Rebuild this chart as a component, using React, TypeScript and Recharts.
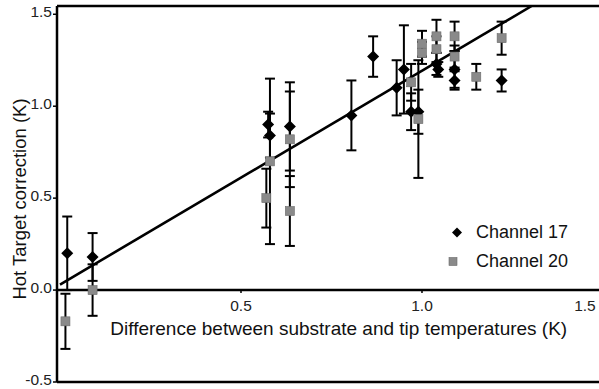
import React from 'react';
import { ScatterChart, Scatter, XAxis, YAxis, ErrorBar, ReferenceLine, ReferenceDot, Legend } from 'recharts';

// x = temperature difference (K), y = hot target correction (K), err = half error bar
const channel17 = [
  { x: 0.02, y: 0.2, err: 0.2 },
  { x: 0.09, y: 0.18, err: 0.13 },
  { x: 0.575, y: 0.9, err: 0.07 },
  { x: 0.58, y: 0.84, err: 0.12 },
  { x: 0.635, y: 0.89, err: 0.24 },
  { x: 0.805, y: 0.95, err: 0.19 },
  { x: 0.865, y: 1.27, err: 0.11 },
  { x: 0.93, y: 1.1, err: 0.15 },
  { x: 0.95, y: 1.2, err: 0.24 },
  { x: 0.97, y: 0.97, err: 0.1 },
  { x: 0.99, y: 0.97, err: 0.12 },
  { x: 1.04, y: 1.23, err: 0.06 },
  { x: 1.045, y: 1.2, err: 0.04 },
  { x: 1.09, y: 1.2, err: 0.1 },
  { x: 1.09, y: 1.14, err: 0.05 },
  { x: 1.22, y: 1.14, err: 0.06 },
];

const channel20 = [
  { x: 0.015, y: -0.17, err: 0.15 },
  { x: 0.09, y: 0.0, err: 0.14 },
  { x: 0.58, y: 0.7, err: 0.45 },
  { x: 0.57, y: 0.5, err: 0.16 },
  { x: 0.635, y: 0.82, err: 0.26 },
  { x: 0.635, y: 0.43, err: 0.19 },
  { x: 0.97, y: 1.13, err: 0.1 },
  { x: 0.99, y: 0.93, err: 0.32 },
  { x: 1.0, y: 1.34, err: 0.07 },
  { x: 1.0, y: 1.29, err: 0.06 },
  { x: 1.04, y: 1.38, err: 0.09 },
  { x: 1.04, y: 1.31, err: 0.07 },
  { x: 1.09, y: 1.38, err: 0.08 },
  { x: 1.09, y: 1.27, err: 0.06 },
  { x: 1.15, y: 1.16, err: 0.07 },
  { x: 1.22, y: 1.37, err: 0.09 },
];

// fitted straight line, start and the point where it leaves the top of the plot
const fitLine = [
  { x: 0, y: 0.03 },
  { x: 1.303, y: 1.545 },
];

const xTicks = [0.5, 1.0, 1.5];
const yTicks = [-0.5, 0, 0.5, 1.0, 1.5];
const xDomain = [-0.0083, 1.489];
const yDomain = [-0.5, 1.545];

const xTitle = 'Difference between substrate and tip temperatures (K)';
const yTitle = 'Hot Target correction (K)';
const seriesNames = ['Channel 17', 'Channel 20'];

const FONT = '"Liberation Sans", Arial, Helvetica, sans-serif';

const Diamond = (props: any) => {
  const { cx, cy } = props;
  const s = 6;
  return <polygon points={`${cx},${cy - s} ${cx + s},${cy} ${cx},${cy + s} ${cx - s},${cy}`} fill="#000" />;
};

const Square = (props: any) => {
  const { cx, cy } = props;
  const s = 4.5;
  return <rect x={cx - s} y={cy - s} width={2 * s} height={2 * s} fill="#8a8a8a" stroke="#6a6a6a" strokeWidth={0.6} />;
};

const XTick = (props: any) => {
  const { cx, cy, value } = props;
  const last = value === xTicks[xTicks.length - 1];
  return (
    <g>
      {!last && <line x1={cx} y1={cy + 1} x2={cx} y2={cy + 3} stroke="#000" strokeWidth={1.5} />}
      <text x={last ? cx - 18 : cx} y={cy + 21} textAnchor="middle" fontFamily={FONT} fontSize={15.5} fill="#222">
        {value.toFixed(1)}
      </text>
    </g>
  );
};

const XTitle = (props: any) => {
  const { cx, cy } = props;
  return (
    <text x={cx} y={cy + 45} textAnchor="middle" fontFamily={FONT} fontSize={19} fill="#111">
      {xTitle}
    </text>
  );
};

const YTick = (props: any) => {
  const { x, y, payload } = props;
  return (
    <text x={x} y={y + 3} textAnchor="end" fontFamily={FONT} fontSize={15.5} fill="#222">
      {payload.value.toFixed(1)}
    </text>
  );
};

const YTitle = (props: any) => {
  const { viewBox } = props;
  const x = viewBox.x + 26;
  const y = viewBox.y + viewBox.height / 2 + 5;
  return (
    <text x={x} y={y} transform={`rotate(-90, ${x}, ${y})`} textAnchor="middle" fontFamily={FONT} fontSize={18.5} fill="#111">
      {yTitle}
    </text>
  );
};

const LegendBox = () => (
  <div style={{ fontFamily: FONT, fontSize: 18, color: '#111', lineHeight: '29px' }}>
    <div style={{ display: 'flex', alignItems: 'center', height: 29 }}>
      <svg width={28} height={29}>
        <polygon points="9,9.5 14,14.5 9,19.5 4,14.5" fill="#000" />
      </svg>
      <span>{seriesNames[0]}</span>
    </div>
    <div style={{ display: 'flex', alignItems: 'center', height: 29 }}>
      <svg width={28} height={29}>
        <rect x={1} y={10.5} width={8} height={8} fill="#8a8a8a" stroke="#6a6a6a" strokeWidth={0.6} />
      </svg>
      <span>{seriesNames[1]}</span>
    </div>
  </div>
);

export default function App() {
  return (
    <div style={{ position: 'absolute', left: 0, top: 0, background: '#fff' }}>
      <ScatterChart width={599} height={389} margin={{ top: 6, right: 0, bottom: 7, left: 0 }}>
        <XAxis type="number" dataKey="x" domain={xDomain} allowDataOverflow hide />
        <YAxis
          type="number"
          dataKey="y"
          domain={yDomain}
          allowDataOverflow
          ticks={yTicks}
          interval={0}
          width={57}
          axisLine={{ stroke: '#000', strokeWidth: 2.5 }}
          tickLine={{ stroke: '#000', strokeWidth: 1.5 }}
          tickSize={4}
          tickMargin={1}
          tick={<YTick />}
          label={<YTitle />}
        />
        <ReferenceLine y={yDomain[1]} stroke="#000" strokeWidth={2.5} ifOverflow="visible" />
        <ReferenceLine y={yDomain[0]} stroke="#000" strokeWidth={2.5} ifOverflow="visible" />
        <ReferenceLine y={0} stroke="#000" strokeWidth={2.5} />
        {xTicks.map((t) => (
          <ReferenceDot key={t} x={t} y={0} r={0} ifOverflow="visible" shape={(p: any) => <XTick {...p} value={t} />} />
        ))}
        <ReferenceDot x={0.77} y={0} r={0} ifOverflow="visible" shape={(p: any) => <XTitle {...p} />} />
        <Scatter
          data={fitLine}
          line={{ stroke: '#000', strokeWidth: 2.6 }}
          shape={() => <g />}
          legendType="none"
          isAnimationActive={false}
        />
        <Scatter name={seriesNames[0]} data={channel17} shape={<Diamond />} isAnimationActive={false}>
          <ErrorBar dataKey="err" direction="y" width={5} stroke="#000" strokeWidth={2} />
        </Scatter>
        <Scatter name={seriesNames[1]} data={channel20} shape={<Square />} isAnimationActive={false}>
          <ErrorBar dataKey="err" direction="y" width={5} stroke="#000" strokeWidth={2} />
        </Scatter>
        <Legend
          layout="vertical"
          align="center"
          verticalAlign="middle"
          content={() => <LegendBox />}
          wrapperStyle={{ position: 'absolute', left: 448, top: 218, width: 150 }}
        />
      </ScatterChart>
    </div>
  );
}
